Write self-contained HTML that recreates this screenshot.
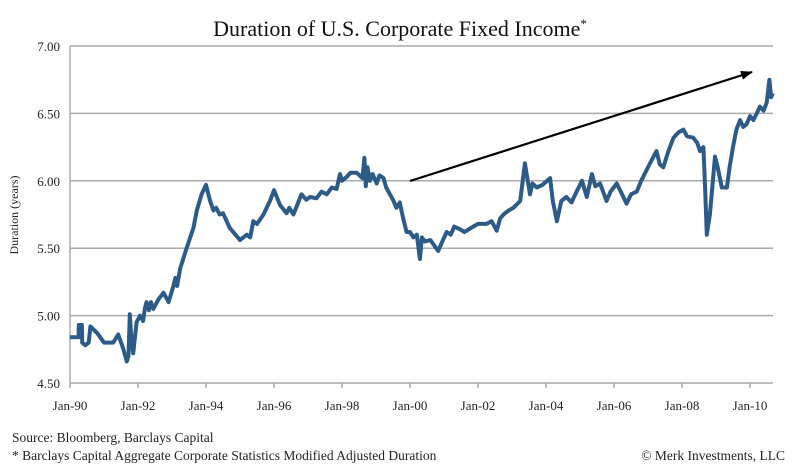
<!DOCTYPE html>
<html><head><meta charset="utf-8"><style>
body{margin:0;background:#fff;}
svg{display:block;font-family:"Liberation Serif",serif;}
</style></head><body>
<svg width="800" height="474" id="chart">
<text x="400" y="36" text-anchor="middle" font-size="22" fill="#111">Duration of U.S. Corporate Fixed Income<tspan font-size="13" dy="-8">*</tspan></text>
<text transform="translate(18,215) rotate(-90)" text-anchor="middle" font-size="12" fill="#222">Duration (years)</text>
<text x="12" y="442" font-size="13.5" fill="#222">Source: Bloomberg, Barclays Capital</text>
<text x="12" y="460" font-size="13.5" fill="#222">* Barclays Capital Aggregate Corporate Statistics Modified Adjusted Duration</text>
<text x="785" y="460" text-anchor="end" font-size="13.5" fill="#222">© Merk Investments, LLC</text>
<g id="grid"></g><g id="axes"></g><g id="series"></g>
<defs><marker id="ah" markerUnits="userSpaceOnUse" markerWidth="12" markerHeight="9" refX="11" refY="4.5" orient="auto"><path d="M0,0 L12,4.5 L0,9 z" fill="#000"/></marker></defs>
<line x1="410" y1="181" x2="752" y2="72" stroke="#000" stroke-width="2.2" marker-end="url(#ah)"/>
</svg>
<script>
const yTicks=[4.5,5.0,5.5,6.0,6.5,7.0];
const xTickYears=[1990,1992,1994,1996,1998,2000,2002,2004,2006,2008,2010];
const xTickLabels=["Jan-90","Jan-92","Jan-94","Jan-96","Jan-98","Jan-00","Jan-02","Jan-04","Jan-06","Jan-08","Jan-10"];
const years=[1990.0,1990.25,1990.26,1990.35,1990.36,1990.45,1990.55,1990.6,1990.8,1991.0,1991.27,1991.42,1991.57,1991.67,1991.72,1991.76,1991.8,1991.86,1991.96,1992.06,1992.15,1992.2,1992.25,1992.32,1992.38,1992.45,1992.6,1992.75,1992.9,1993.04,1993.1,1993.15,1993.24,1993.43,1993.63,1993.73,1993.87,1994.0,1994.12,1994.22,1994.3,1994.4,1994.5,1994.7,1995.0,1995.2,1995.3,1995.39,1995.5,1995.69,1995.88,1996.0,1996.18,1996.37,1996.45,1996.57,1996.81,1996.95,1997.06,1997.25,1997.4,1997.55,1997.7,1997.84,1997.94,1998.0,1998.14,1998.25,1998.43,1998.6,1998.66,1998.7,1998.75,1998.82,1998.9,1999.02,1999.1,1999.22,1999.3,1999.41,1999.5,1999.6,1999.7,1999.8,1999.9,2000.0,2000.1,2000.2,2000.29,2000.35,2000.44,2000.6,2000.83,2000.95,2001.08,2001.2,2001.3,2001.47,2001.6,2001.86,2002.0,2002.25,2002.4,2002.55,2002.65,2002.75,2002.9,2003.04,2003.24,2003.38,2003.45,2003.53,2003.6,2003.73,2003.9,2004.12,2004.2,2004.32,2004.45,2004.6,2004.75,2004.9,2005.06,2005.2,2005.35,2005.45,2005.59,2005.78,2005.9,2006.08,2006.2,2006.37,2006.5,2006.67,2006.8,2006.96,2007.1,2007.25,2007.35,2007.45,2007.6,2007.75,2007.9,2008.04,2008.15,2008.33,2008.45,2008.53,2008.63,2008.68,2008.73,2008.82,2008.97,2009.05,2009.17,2009.32,2009.4,2009.5,2009.6,2009.71,2009.8,2009.9,2010.0,2010.1,2010.2,2010.29,2010.4,2010.49,2010.57,2010.62,2010.67];
const durations=[4.84,4.84,4.93,4.93,4.80,4.78,4.80,4.92,4.87,4.80,4.80,4.86,4.75,4.66,4.70,5.01,4.85,4.72,4.95,5.00,4.96,5.05,5.10,5.04,5.10,5.05,5.12,5.17,5.10,5.22,5.28,5.22,5.35,5.50,5.65,5.78,5.90,5.97,5.85,5.78,5.80,5.75,5.76,5.65,5.56,5.60,5.58,5.70,5.68,5.75,5.85,5.93,5.82,5.76,5.80,5.75,5.90,5.86,5.88,5.87,5.92,5.90,5.95,5.94,6.05,6.00,6.03,6.06,6.06,6.02,6.17,5.96,6.10,6.00,6.05,5.98,6.04,6.02,5.95,5.90,5.86,5.80,5.84,5.72,5.62,5.62,5.58,5.60,5.42,5.58,5.55,5.56,5.48,5.55,5.62,5.60,5.66,5.64,5.62,5.66,5.68,5.68,5.70,5.63,5.72,5.75,5.78,5.80,5.85,6.13,6.02,5.90,5.98,5.95,5.97,6.02,5.85,5.70,5.85,5.88,5.84,5.92,6.00,5.88,6.05,5.96,5.98,5.85,5.92,5.98,5.92,5.83,5.90,5.92,6.00,6.08,6.15,6.22,6.12,6.10,6.22,6.32,6.36,6.38,6.33,6.32,6.28,6.22,6.25,5.95,5.60,5.75,6.18,6.10,5.95,5.95,6.10,6.25,6.38,6.45,6.40,6.42,6.48,6.45,6.50,6.55,6.52,6.58,6.75,6.62,6.65];
const NS="http://www.w3.org/2000/svg";
const X0=70,X1=773,Y0=383,Y1=46;
function xs(y){return X0+(y-1990)*34;}
function ys(v){return Y0-(v-4.5)/2.5*(Y0-Y1);}
const grid=document.getElementById('grid'),axes=document.getElementById('axes'),series=document.getElementById('series');
function mk(t,a,p){const e=document.createElementNS(NS,t);for(const k in a)e.setAttribute(k,a[k]);p.appendChild(e);return e;}
yTicks.forEach(v=>{
 const l=mk('line',{x1:X0,x2:X1,y1:ys(v),y2:ys(v),stroke:'#aaa','stroke-width':1.5},grid);
 
 
 const t=mk('text',{x:X0-10,y:ys(v)+5,'text-anchor':'end','font-size':13,fill:'#222'},axes);
 t.textContent=v.toFixed(2);
 
 
});
const ya=mk('line',{x1:X0,x2:X0,y1:Y1,y2:Y0,stroke:'#aaa','stroke-width':1.5},axes);


xTickYears.forEach((yr,i)=>{
 const tk=mk('line',{x1:xs(yr),x2:xs(yr),y1:Y0,y2:Y0+5,stroke:'#aaa','stroke-width':1.5},axes);
 
 
 const t=mk('text',{x:xs(yr),y:Y0+27,'text-anchor':'middle','font-size':13,fill:'#222'},axes);
 t.textContent=xTickLabels[i];
 
 
});
const pts=years.map((y,i)=>xs(y).toFixed(1)+','+ys(durations[i]).toFixed(1)).join(' ');
const pl=mk('polyline',{points:pts,fill:'none',stroke:'#2d5b88','stroke-width':4,'stroke-linejoin':'round'},series);


</script>
</body></html>
